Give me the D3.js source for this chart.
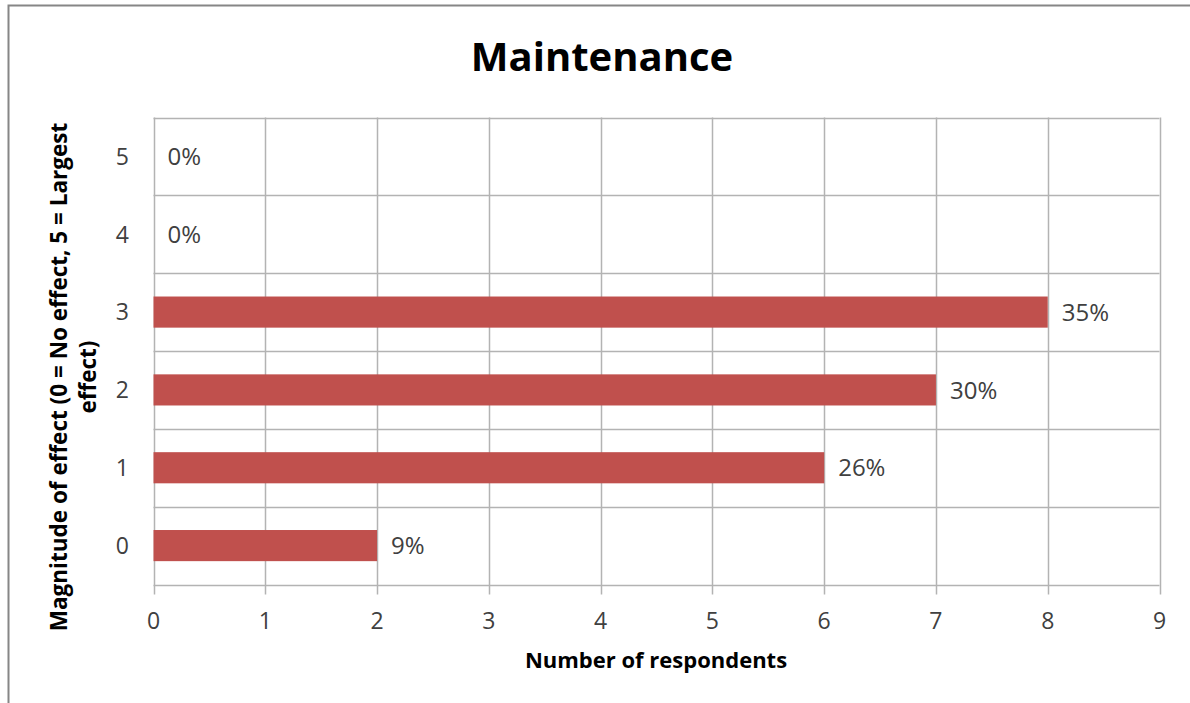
<!DOCTYPE html>
<html>
<head>
<meta charset="utf-8">
<script src="https://cdn.jsdelivr.net/npm/d3@7"></script>
<style>
  html, body { margin: 0; padding: 0; background: #fff; }
  svg { display: block; }
  text { font-family: "Open Sans", "Noto Sans", sans-serif; fill: #404040; }
</style>
</head>
<body>
<svg id="chart" width="1190" height="703"></svg>
<script>
// ---- data ----
const categories = ["0", "1", "2", "3", "4", "5"];
const respondents = [2, 6, 7, 8, 0, 0];
const percentLabels = ["9%", "26%", "30%", "35%", "0%", "0%"];
const xTicks = [0, 1, 2, 3, 4, 5, 6, 7, 8, 9];
const chartTitle = "Maintenance";
const xTitle = "Number of respondents";
const yTitleLines = ["Magnitude of effect (0 = No effect, 5 = Largest", "effect)"];

const svg = d3.select("#chart");

// outer chart border
svg.append("rect")
  .attr("x", 8.5).attr("y", 5.5)
  .attr("width", 1200).attr("height", 720)
  .attr("fill", "#fff")
  .attr("stroke", "#868686").attr("stroke-width", 2);

const plot = { left: 153.5, right: 1159.5, top: 117.5, bottom: 584.5 };

const x = d3.scaleLinear().domain([0, 9]).range([plot.left, plot.right]);
const yBand = d3.scaleBand()
  .domain(categories.slice().reverse())
  .range([plot.top, plot.bottom])
  .paddingInner(0.6).paddingOuter(0.3);
const yGrid = d3.scaleLinear().domain([0, categories.length]).range([plot.bottom, plot.top]);

const gridColor = "#b3b3b3";

// vertical gridlines
svg.append("g").selectAll("line")
  .data(xTicks)
  .join("line")
  .attr("x1", d => Math.round(x(d)) + 0.5).attr("x2", d => Math.round(x(d)) + 0.5)
  .attr("y1", plot.top).attr("y2", plot.bottom + 10)
  .attr("stroke", gridColor).attr("stroke-width", 1.5);

// horizontal gridlines
svg.append("g").selectAll("line")
  .data(d3.range(0, categories.length + 1))
  .join("line")
  .attr("x1", plot.left).attr("x2", plot.right)
  .attr("y1", d => Math.round(yGrid(d)) + 0.5).attr("y2", d => Math.round(yGrid(d)) + 0.5)
  .attr("stroke", gridColor).attr("stroke-width", 1.5);

// bars
svg.append("g").selectAll("rect")
  .data(categories)
  .join("rect")
  .attr("x", x(0))
  .attr("y", d => yBand(d))
  .attr("height", yBand.bandwidth())
  .attr("width", (d, i) => x(respondents[i]) - x(0))
  .attr("fill", "#c0504d");

// data labels
svg.append("g").selectAll("text")
  .data(categories)
  .join("text")
  .attr("x", (d, i) => x(respondents[i]) + 14)
  .attr("y", d => yBand(d) + yBand.bandwidth() / 2)
  .attr("dy", "0.36em")
  .attr("font-size", 24)
  .text((d, i) => percentLabels[i]);

// y category labels
svg.append("g").selectAll("text")
  .data(categories)
  .join("text")
  .attr("x", 129)
  .attr("y", d => yBand(d) + yBand.bandwidth() / 2)
  .attr("dy", "0.36em")
  .attr("text-anchor", "end")
  .attr("font-size", 23)
  .text(d => d);

// x tick labels
svg.append("g").selectAll("text")
  .data(xTicks)
  .join("text")
  .attr("x", d => x(d))
  .attr("y", 629)
  .attr("text-anchor", "middle")
  .attr("font-size", 23)
  .text(d => d);

// title
svg.append("text")
  .attr("x", 602).attr("y", 71)
  .attr("text-anchor", "middle")
  .attr("font-size", 40).attr("font-weight", 700)
  .style("fill", "#000")
  .text(chartTitle);

// x axis title
svg.append("text")
  .attr("x", 656).attr("y", 668)
  .attr("text-anchor", "middle")
  .attr("font-size", 22).attr("font-weight", 700)
  .style("fill", "#000")
  .text(xTitle);

// y axis title (two lines, centered)
svg.append("text")
  .attr("transform", "translate(67,377) rotate(-90)")
  .attr("text-anchor", "middle")
  .attr("font-size", 22.5).attr("font-weight", 700)
  .style("fill", "#000")
  .text(yTitleLines[0]);
svg.append("text")
  .attr("transform", "translate(96,377) rotate(-90)")
  .attr("text-anchor", "middle")
  .attr("font-size", 22.5).attr("font-weight", 700)
  .style("fill", "#000")
  .text(yTitleLines[1]);
</script>
</body>
</html>
